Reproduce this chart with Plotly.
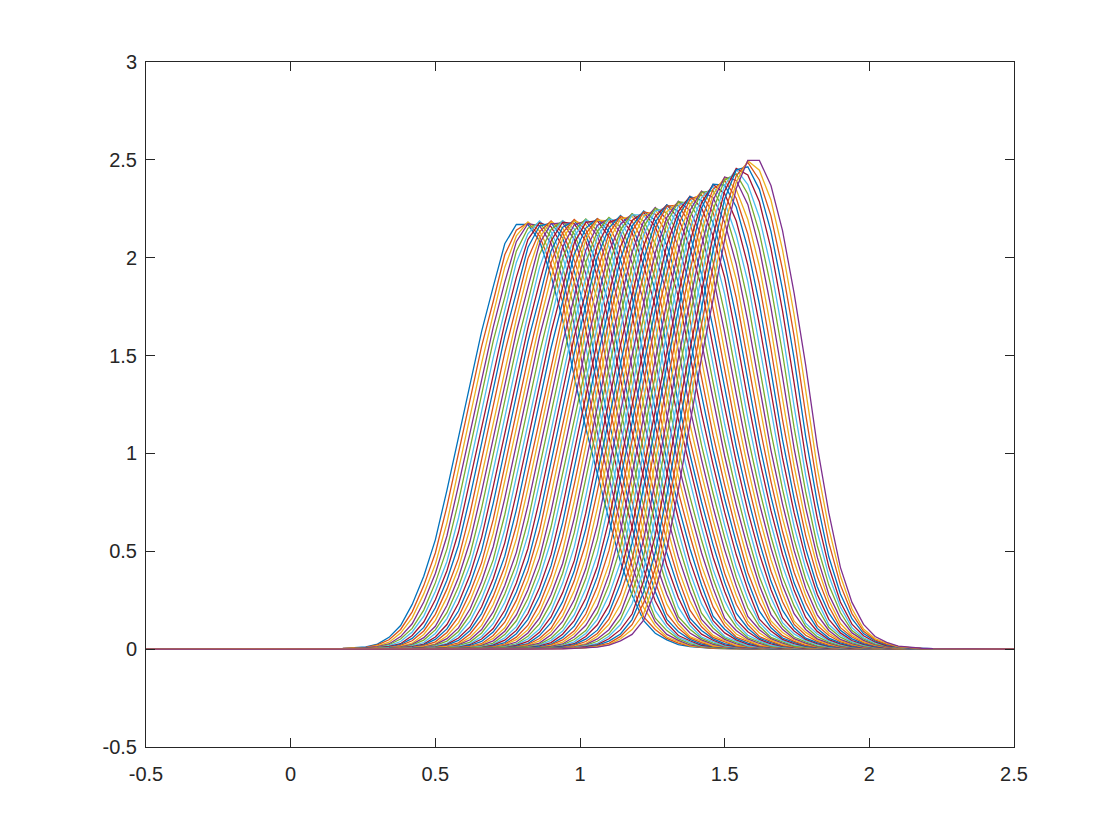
import numpy as np
import plotly.graph_objects as go

# ---- data ----
# spatial grid of the solution (spacing 0.04 from -0.5 to 2.5)
x_grid = np.round(np.linspace(-0.5, 2.5, 76), 4)

# number of time snapshots and peak locations of first / last snapshot
n_curves = 67
peak_first = 0.80
peak_last = 1.60

# peak height envelope (peak position -> peak height)
env_x = [0.80, 0.90, 1.02, 1.115, 1.22, 1.35, 1.44, 1.51, 1.555, 1.60]
env_h = [2.185, 2.19, 2.20, 2.21, 2.24, 2.295, 2.355, 2.42, 2.47, 2.515]

# relative profile of the first snapshot (offset from peak -> fraction of peak)
prof0_left_d = [0, 0.02, 0.06, 0.08, 0.11, 0.146, 0.18, 0.215, 0.249, 0.284, 0.318,
                0.353, 0.388, 0.422, 0.457, 0.491, 0.55, 0.65, 0.8, 3.5]
prof0_left_r = [1, 0.993, 0.948, 0.905, 0.818, 0.728, 0.617, 0.508, 0.406, 0.296, 0.21,
                0.147, 0.092, 0.053, 0.029, 0.013, 0.004, 0.001, 0, 0]
prof0_right_d = [0, 0.02, 0.06, 0.125, 0.171, 0.223, 0.281, 0.344, 0.407, 0.47, 0.55,
                 0.65, 0.8, 3.5]
prof0_right_r = [1, 0.993, 0.955, 0.822, 0.665, 0.508, 0.351, 0.194, 0.076, 0.03, 0.008,
                 0.002, 0, 0]

# relative profile of the last snapshot
prof1_left_d = [0, 0.02, 0.06, 0.10, 0.139, 0.185, 0.226, 0.266, 0.312, 0.37, 0.42,
                0.48, 0.55, 0.7, 3.5]
prof1_left_r = [1, 0.993, 0.936, 0.832, 0.713, 0.577, 0.44, 0.304, 0.168, 0.066, 0.03,
                0.01, 0.003, 0, 0]
prof1_right_d = [0, 0.02, 0.063, 0.103, 0.137, 0.172, 0.201, 0.23, 0.264, 0.299, 0.345,
                 0.391, 0.437, 0.506, 0.6, 0.8, 3.5]
prof1_right_r = [1, 0.993, 0.938, 0.843, 0.734, 0.611, 0.488, 0.373, 0.264, 0.168, 0.086,
                 0.039, 0.018, 0.005, 0.001, 0, 0]

# axis ticks
x_ticks = [-0.5, 0, 0.5, 1, 1.5, 2, 2.5]
x_tick_text = ["-0.5", "0", "0.5", "1", "1.5", "2", "2.5"]
y_ticks = [-0.5, 0, 0.5, 1, 1.5, 2, 2.5, 3]
y_tick_text = ["-0.5", "0", "0.5", "1", "1.5", "2", "2.5", "3"]

# MATLAB default colour order
colors = ["#0072BD", "#D95319", "#EDB120", "#7E2F8E", "#77AC30", "#4DBEEE", "#A2142F"]

# ---- build figure ----
fig = go.Figure()
peaks = np.linspace(peak_first, peak_last, n_curves)
h0, h1 = env_h[0], env_h[-1]
for i, p in enumerate(peaks):
    h = np.interp(p, env_x, env_h)
    w = (h - h0) / (h1 - h0)
    d = x_grid - p
    ad = np.abs(d)
    left = (1 - w) * np.interp(ad, prof0_left_d, prof0_left_r) + w * np.interp(ad, prof1_left_d, prof1_left_r)
    right = (1 - w) * np.interp(ad, prof0_right_d, prof0_right_r) + w * np.interp(ad, prof1_right_d, prof1_right_r)
    y = h * np.where(d < 0, left, right)
    fig.add_trace(go.Scatter(
        x=x_grid, y=y, mode="lines",
        line=dict(color=colors[i % len(colors)], width=1.3),
        showlegend=False, hoverinfo="skip",
    ))

axis_common = dict(
    showgrid=False, zeroline=False, showline=True, mirror="ticks",
    linecolor="#262626", linewidth=1, ticks="inside", ticklen=9,
    tickcolor="#262626", tickwidth=1,
    tickfont=dict(family="Liberation Sans, Arial, sans-serif", size=20, color="#262626"),
)
fig.update_xaxes(range=[-0.5, 2.5], tickvals=x_ticks, ticktext=x_tick_text,
                 ticklabelstandoff=9, **axis_common)
fig.update_yaxes(range=[-0.5, 3], tickvals=y_ticks, ticktext=y_tick_text,
                 ticklabelstandoff=4, **axis_common)
fig.update_layout(
    width=1120, height=840,
    margin=dict(l=138, r=114, t=54, b=101),
    plot_bgcolor="white", paper_bgcolor="white",
)
fig.write_html("out.html")
